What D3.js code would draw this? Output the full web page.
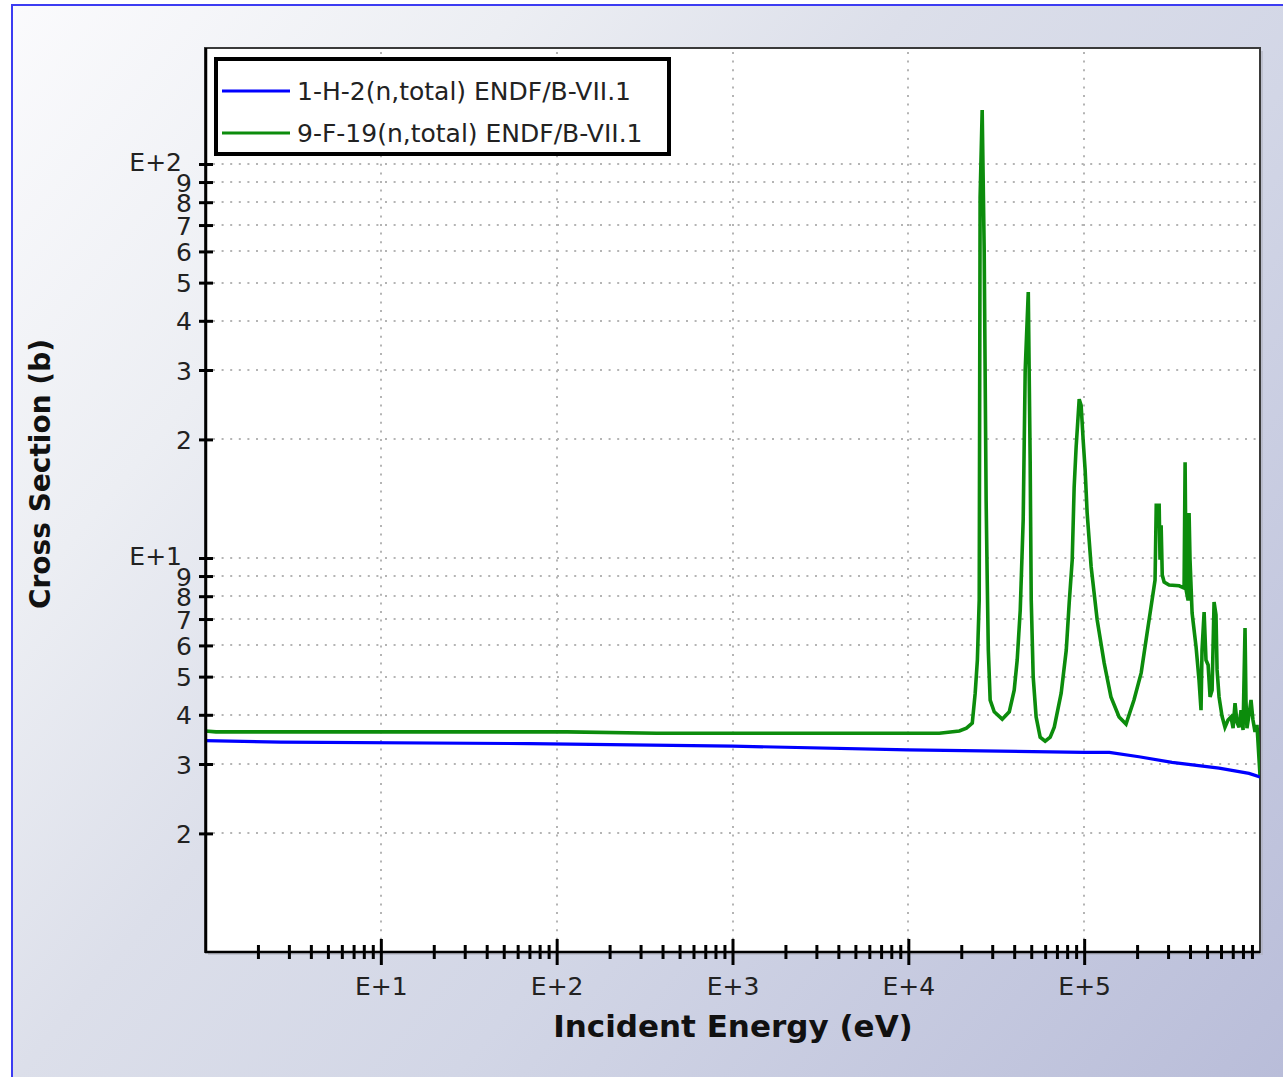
<!DOCTYPE html>
<html>
<head>
<meta charset="utf-8">
<script src="https://cdn.jsdelivr.net/npm/d3@7"></script>
<style>
  body { margin: 0; background: #fff; }
  svg { display: block; font-family: "DejaVu Sans", Verdana, sans-serif; }
</style>
</head>
<body>
<div id="chart"></div>
<script>
// values: energy in eV, cross section in barns
var h2Energy = [1, 2.7, 70, 1000, 1e4, 1e5, 1.39e5, 2.05e5, 3.16e5, 5.85e5, 8.66e5, 1e6];
var h2Sigma  = [3.44, 3.41, 3.38, 3.33, 3.26, 3.21, 3.21, 3.13, 3.03, 2.93, 2.84, 2.78];

var f19Energy = [1, 1.155, 115, 370, 1.5e4, 1.95e4, 2.14e4, 2.31e4, 2.40e4, 2.47e4, 2.53e4, 2.56e4, 2.63e4, 2.70e4,
  2.77e4, 2.81e4, 2.85e4, 2.92e4, 3.08e4, 3.42e4, 3.75e4, 4.0e4, 4.16e4, 4.33e4, 4.50e4, 4.62e4, 4.81e4, 4.93e4,
  5.0e4, 5.13e4, 5.33e4, 5.62e4, 6.0e4, 6.41e4, 6.76e4, 7.40e4, 7.91e4, 8.22e4, 8.55e4, 8.77e4, 9.0e4, 9.37e4,
  9.61e4, 9.87e4, 1.013e5, 1.04e5, 1.096e5, 1.186e5, 1.30e5, 1.42e5, 1.58e5, 1.73e5, 1.92e5, 2.11e5, 2.28e5,
  2.40e5, 2.53e5, 2.57e5, 2.67e5, 2.70e5, 2.74e5, 2.78e5, 2.85e5, 3.04e5, 3.47e5, 3.70e5, 3.75e5, 3.80e5, 3.90e5,
  3.95e5, 4.0e5, 4.11e5, 4.33e5, 4.50e5, 4.62e5, 4.68e5, 4.81e5, 4.93e5, 5.07e5, 5.20e5, 5.34e5, 5.48e5, 5.62e5,
  5.70e5, 5.85e5, 6.08e5, 6.32e5, 6.58e5, 6.84e5, 7.03e5, 7.21e5, 7.40e5, 7.60e5, 7.80e5, 8.01e5, 8.22e5, 8.32e5,
  8.43e5, 8.66e5, 8.89e5, 9.12e5, 9.37e5, 9.61e5, 1e6];
var f19Sigma = [3.64, 3.62, 3.62, 3.59, 3.59, 3.64, 3.70, 3.81, 4.54, 5.51, 7.82, 82.5, 137, 60.5,
  14.0, 8.79, 5.84, 4.36, 4.07, 3.90, 4.07, 4.62, 5.51, 7.38, 12.5, 30.0, 47.3, 17.7,
  7.82, 4.99, 3.95, 3.51, 3.43, 3.51, 3.72, 4.54, 5.84, 7.69, 9.88, 15.1, 19.1, 25.3,
  24.4, 19.9, 16.7, 13.0, 9.49, 6.96, 5.41, 4.44, 3.95, 3.79, 4.36, 5.11, 6.45,
  7.51, 8.79, 13.6, 13.6, 9.9, 12.1, 9.06, 8.69, 8.54, 8.5, 8.39, 17.5, 8.3, 7.8,
  13.0, 9.88, 7.25, 5.94, 4.90, 4.11, 5.84, 7.29, 5.51, 5.35, 4.44, 4.62, 7.73, 7.17,
  5.2, 4.44, 3.97, 3.72, 3.88, 3.95, 3.70, 4.28, 3.83, 3.72, 4.11, 3.66, 6.64, 4.36,
  3.70, 4.0, 4.36, 3.88, 3.62, 3.77, 2.81];

var seriesNames = ["1-H-2(n,total) ENDF/B-VII.1", "9-F-19(n,total) ENDF/B-VII.1"];
var seriesColors = ["#0000ff", "#0c8c0c"];

var xMajorTicks = [1e1, 1e2, 1e3, 1e4, 1e5];
var xMajorLabels = ["E+1", "E+2", "E+3", "E+4", "E+5"];
var yTicks = [2, 3, 4, 5, 6, 7, 8, 9, 10, 20, 30, 40, 50, 60, 70, 80, 90, 100];
var yTickLabels = ["2", "3", "4", "5", "6", "7", "8", "9", "E+1", "2", "3", "4", "5", "6", "7", "8", "9", "E+2"];

var W = 1283, H = 1077;
var pL = 205, pR = 1260, pT = 48, pB = 952;

var svg = d3.select("#chart").append("svg").attr("width", W).attr("height", H);
var defs = svg.append("defs");
var grad = defs.append("linearGradient").attr("id", "bg")
  .attr("gradientUnits", "userSpaceOnUse").attr("x1", 0).attr("y1", 0).attr("x2", W).attr("y2", H);
[[0, "#fbfbfd"], [0.24, "#eceef3"], [0.42, "#dcdfea"], [0.62, "#d2d6e6"], [1, "#b9bdd9"]].forEach(function(s) {
  grad.append("stop").attr("offset", s[0]).attr("stop-color", s[1]);
});
defs.append("clipPath").attr("id", "plotclip").append("rect")
  .attr("x", pL).attr("y", pT).attr("width", pR - pL).attr("height", pB - pT);

svg.append("rect").attr("width", W).attr("height", H).attr("fill", "#ffffff");
svg.append("rect").attr("x", 12).attr("y", 5).attr("width", W + 20).attr("height", H + 20)
  .attr("fill", "url(#bg)").attr("stroke", "#3c3cf2").attr("stroke-width", 2);

// frame shadow + plot area
svg.append("rect").attr("x", pL + 3).attr("y", pT + 3).attr("width", pR - pL).attr("height", pB - pT)
  .attr("fill", "#a9abb8").attr("opacity", 0.5);
svg.append("rect").attr("x", pL).attr("y", pT).attr("width", pR - pL).attr("height", pB - pT)
  .attr("fill", "#ffffff").attr("stroke", "#3a3a3a").attr("stroke-width", 2);

var x = d3.scaleLog().domain([1, 1e6]).range([pL, pR]);
var y = d3.scaleLog().domain([1, 197]).range([pB, pT]);

// dotted grid
var grid = svg.append("g").attr("stroke", "#b4b4b4").attr("stroke-width", 2).attr("stroke-dasharray", "2,6.6");
grid.selectAll("line.v").data(xMajorTicks).enter().append("line")
  .attr("x1", function(d) { return Math.round(x(d)); }).attr("x2", function(d) { return Math.round(x(d)); })
  .attr("y1", pT + 4).attr("y2", pB);
grid.selectAll("line.h").data(yTicks).enter().append("line")
  .attr("x1", pL + 8).attr("x2", pR)
  .attr("y1", function(d) { return Math.round(y(d)); }).attr("y2", function(d) { return Math.round(y(d)); });

// curves
var line = d3.line().x(function(d) { return x(d[0]); }).y(function(d) { return y(d[1]); });
var curves = svg.append("g").attr("clip-path", "url(#plotclip)");
curves.append("path").datum(d3.zip(h2Energy, h2Sigma)).attr("d", line)
  .attr("fill", "none").attr("stroke", seriesColors[0]).attr("stroke-width", 3.2);
curves.append("path").datum(d3.zip(f19Energy, f19Sigma)).attr("d", line)
  .attr("fill", "none").attr("stroke", seriesColors[1]).attr("stroke-width", 3.6).attr("stroke-linejoin", "miter");

// x axis: decade labels plus minor ticks through the axis line
var xMinor = [];
for (var k = 0; k < 6; k++) for (var m = 2; m <= 9; m++) xMinor.push(m * Math.pow(10, k));
var xAxisG = svg.append("g").attr("transform", "translate(0," + pB + ")")
  .call(d3.axisBottom(x).tickValues(xMinor.concat(xMajorTicks))
    .tickFormat(function(d) { var i = xMajorTicks.indexOf(d); return i < 0 ? "" : xMajorLabels[i]; })
    .tickSizeOuter(0));
xAxisG.select(".domain").attr("stroke", "#000").attr("stroke-width", 2.5).attr("d", "M" + pL + ",0H" + pR);
xAxisG.selectAll(".tick line").attr("stroke", "#000").attr("stroke-width", 3)
  .attr("y1", function(d) { return xMajorTicks.indexOf(d) < 0 ? -7 : -13; })
  .attr("y2", function(d) { return xMajorTicks.indexOf(d) < 0 ? 7 : 13; });
xAxisG.selectAll(".tick text").attr("y", 43).attr("dy", 0).attr("fill", "#222")
  .style("font-size", "25px").style("font-family", "DejaVu Sans");

// y axis
var yAxisG = svg.append("g").attr("transform", "translate(" + (pL + 1) + ",0)")
  .call(d3.axisLeft(y).tickValues(yTicks)
    .tickFormat(function(d, i) { return yTickLabels[i]; }).tickSizeOuter(0));
yAxisG.select(".domain").attr("stroke", "#000").attr("stroke-width", 2.5).attr("d", "M0," + pT + "V" + pB);
yAxisG.selectAll(".tick line").attr("stroke", "#000").attr("stroke-width", 3).attr("x1", -7).attr("x2", 7);
yAxisG.selectAll(".tick text").attr("fill", "#222").style("font-size", "25px").style("font-family", "DejaVu Sans")
  .attr("x", function(d, i) { return yTickLabels[i].length > 1 ? -24 : -14; })
  .attr("dy", function(d, i) { return yTickLabels[i].length > 1 ? "0.25em" : "0.36em"; });

// legend
var lg = svg.append("g");
lg.append("rect").attr("x", 216).attr("y", 59).attr("width", 453).attr("height", 95)
  .attr("fill", "#fff").attr("stroke", "#000").attr("stroke-width", 4);
seriesNames.forEach(function(name, i) {
  var ly = 91 + i * 42;
  lg.append("line").attr("x1", 222).attr("x2", 290).attr("y1", ly).attr("y2", ly)
    .attr("stroke", seriesColors[i]).attr("stroke-width", 3);
  lg.append("text").attr("x", 297).attr("y", ly + 9).attr("fill", "#222")
    .style("font-size", "25px").text(name);
});

// axis titles
svg.append("text").attr("x", 733).attr("y", 1037).attr("text-anchor", "middle")
  .attr("fill", "#111").style("font-size", "31px").style("font-weight", "bold").text("Incident Energy (eV)");
svg.append("text").attr("transform", "translate(50,474) rotate(-90)").attr("text-anchor", "middle")
  .attr("fill", "#111").style("font-size", "28px").style("font-weight", "bold").text("Cross Section (b)");
</script>
</body>
</html>
